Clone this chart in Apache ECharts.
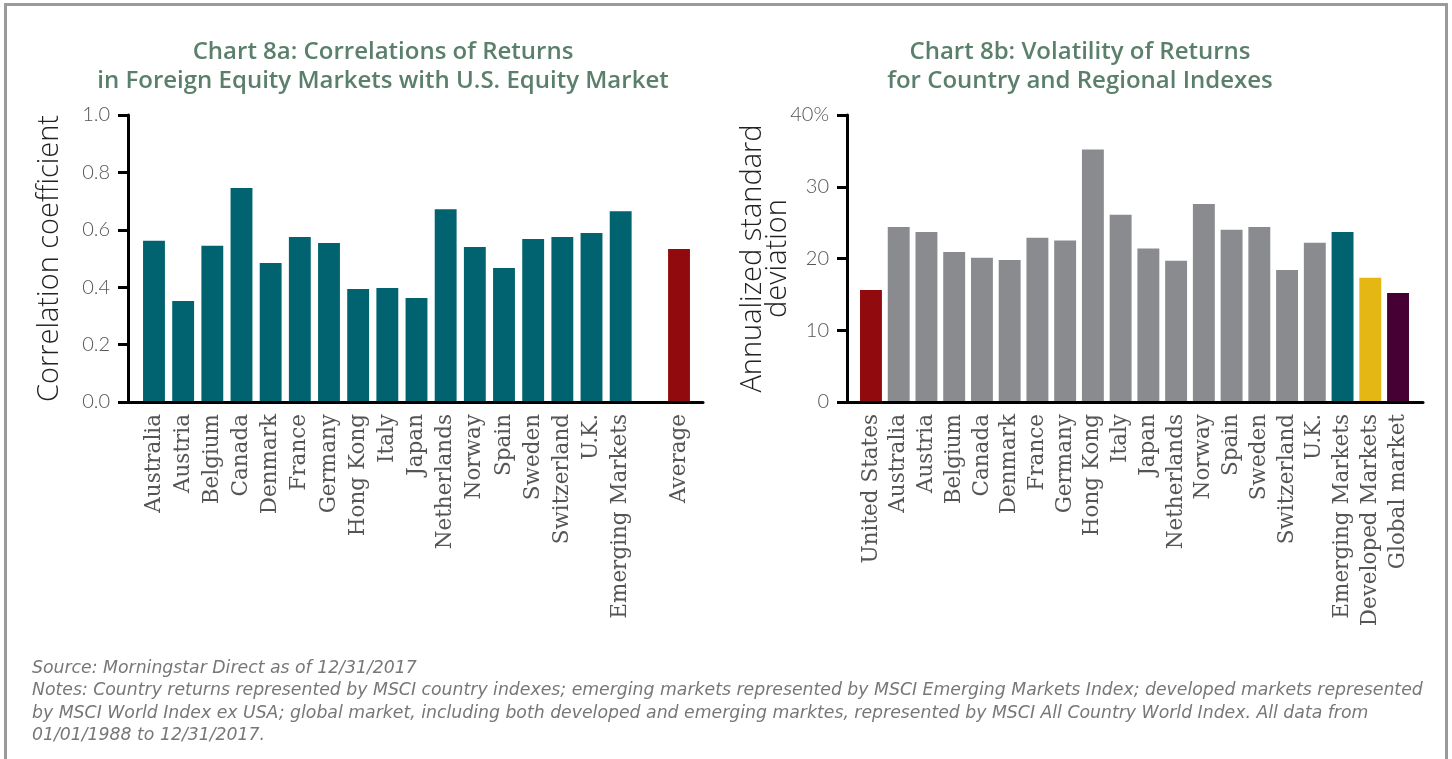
<!DOCTYPE html>
<html>
<head>
<meta charset="utf-8">
<script src="https://cdn.jsdelivr.net/npm/echarts@6/dist/echarts.min.js"></script>
<style>
  html, body { margin: 0; padding: 0; background: #fff; }
  #frame { position: absolute; left: 4px; top: 3px; width: 1438px; height: 820px; border: 3px solid #9a9a9a; }
  #main { position: absolute; left: 0; top: 0; width: 1452px; height: 759px; }
</style>
</head>
<body>
<div id="frame"></div>
<div id="main"></div>
<script>
// Chart 8a – correlations with the U.S. market
const corrCategories = ["Australia", "Austria", "Belgium", "Canada", "Denmark", "France", "Germany", "Hong Kong",
  "Italy", "Japan", "Netherlands", "Norway", "Spain", "Sweden", "Switzerland", "U.K.", "Emerging Markets", "", "Average"];
const corrValues = [0.562, 0.352, 0.544, 0.746, 0.484, 0.575, 0.554, 0.394,
  0.397, 0.362, 0.672, 0.540, 0.467, 0.568, 0.575, 0.589, 0.665, null, 0.533];
const corrTicks = [0, 0.2, 0.4, 0.6, 0.8, 1.0];

// Chart 8b – annualized volatility (%)
const volCategories = ["United States", "Australia", "Austria", "Belgium", "Canada", "Denmark", "France", "Germany",
  "Hong Kong", "Italy", "Japan", "Netherlands", "Norway", "Spain", "Sweden", "Switzerland", "U.K.",
  "Emerging Markets", "Developed Markets", "Global market"];
const volValues = [15.6, 24.4, 23.7, 20.9, 20.1, 19.8, 22.9, 22.5,
  35.2, 26.1, 21.4, 19.7, 27.6, 24.0, 24.4, 18.4, 22.2,
  23.7, 17.3, 15.2];
const volTicks = [0, 10, 20, 30, 40];

const TEAL = "#00636f", RED = "#910a0e", GREY = "#898b8f", GOLD = "#e5b714", PLUM = "#470033";
const corrColor = name => name === "Average" ? RED : TEAL;
const volColor = name => ({ "United States": RED, "Emerging Markets": TEAL, "Developed Markets": GOLD, "Global market": PLUM }[name] || GREY);

const tickFont = { fontFamily: "Lato", fontWeight: 300, fontSize: 20, color: "#555" };
const catFont = { fontFamily: "DejaVu Serif", fontSize: 21.5, color: "#555" };
const nameFont = { fontFamily: "Open Sans", fontWeight: 300, fontSize: 29, color: "#222", lineHeight: 25 };
const titleFont = { fontFamily: "Open Sans", fontWeight: 600, fontSize: 24, color: "#5a806b", lineHeight: 29 };
const blackLine = { lineStyle: { color: "#000", width: 3 } };

// frame grids carry the visible axes, bar grids carry the bars (inset a bit from the y axis)
const gridTop = 115, gridBottom = 357;

const chart = echarts.init(document.getElementById("main"), null, { renderer: "canvas" });
chart.setOption({
  animation: false,
  title: [
    { text: "Chart 8a: Correlations of Returns\nin Foreign Equity Markets with U.S. Equity Market",
      left: 378, top: 33, textAlign: "center", textStyle: titleFont },
    { text: "Chart 8b: Volatility of Returns\nfor Country and Regional Indexes",
      left: 1075, top: 33, textAlign: "center", textStyle: titleFont },
    { text: "Source: Morningstar Direct as of 12/31/2017\n" +
        "Notes: Country returns represented by MSCI country indexes; emerging markets represented by MSCI Emerging Markets Index; developed markets represented\n" +
        "by MSCI World Index ex USA; global market, including both developed and emerging marktes, represented by MSCI All Country World Index. All data from\n" +
        "01/01/1988 to 12/31/2017.",
      left: 27, top: 652,
      textStyle: { fontFamily: "DejaVu Sans", fontStyle: "italic", fontWeight: 200, fontSize: 17.3, color: "#777", lineHeight: 22.5 } }
  ],
  grid: [
    { left: 128, right: 749, top: gridTop, bottom: gridBottom },
    { left: 139.4, right: 758.4, top: gridTop, bottom: gridBottom },
    { left: 847, right: 29, top: gridTop, bottom: gridBottom },
    { left: 857.1, right: 40.1, top: gridTop, bottom: gridBottom }
  ],
  xAxis: [
    { gridIndex: 0, type: "value", min: 0, max: 1, z: 10, axisLine: blackLine, axisTick: { show: false }, axisLabel: { show: false }, splitLine: { show: false } },
    { gridIndex: 1, type: "category", data: corrCategories, axisLine: { show: false }, axisTick: { show: false },
      axisLabel: Object.assign({ rotate: 90, margin: 12, interval: 0 }, catFont) },
    { gridIndex: 2, type: "value", min: 0, max: 1, z: 10, axisLine: blackLine, axisTick: { show: false }, axisLabel: { show: false }, splitLine: { show: false } },
    { gridIndex: 3, type: "category", data: volCategories, axisLine: { show: false }, axisTick: { show: false },
      axisLabel: Object.assign({ rotate: 90, margin: 12, interval: 0 }, catFont) }
  ],
  yAxis: [
    { gridIndex: 0, type: "value", min: corrTicks[0], max: corrTicks[corrTicks.length - 1], interval: 0.2, z: 10,
      axisLine: Object.assign({ show: true }, blackLine),
      axisTick: { show: true, length: 10, lineStyle: { color: "#000", width: 3 } },
      axisLabel: Object.assign({ margin: 18, formatter: v => v.toFixed(1) }, tickFont),
      splitLine: { show: false },
      name: "Correlation coefficient", nameLocation: "middle", nameGap: 66, nameTextStyle: nameFont },
    { gridIndex: 1, type: "value", min: 0, max: 1, show: false },
    { gridIndex: 2, type: "value", min: volTicks[0], max: volTicks[volTicks.length - 1], interval: 10, z: 10,
      axisLine: Object.assign({ show: true }, blackLine),
      axisTick: { show: true, length: 10, lineStyle: { color: "#000", width: 3 } },
      axisLabel: Object.assign({ margin: 18, formatter: v => v === 40 ? v + "%" : String(v) }, tickFont),
      splitLine: { show: false },
      name: "Annualized standard\ndeviation", nameLocation: "middle", nameGap: 57, nameMoveOverlap: false, nameTextStyle: nameFont },
    { gridIndex: 3, type: "value", min: 0, max: 40, show: false }
  ],
  series: [
    { type: "bar", xAxisIndex: 1, yAxisIndex: 1, barCategoryGap: "25%",
      data: corrValues.map((v, i) => v == null ? "-" : { value: v, itemStyle: { color: corrColor(corrCategories[i]) } }) },
    { type: "bar", xAxisIndex: 3, yAxisIndex: 3, barCategoryGap: "21%",
      data: volValues.map((v, i) => ({ value: v, itemStyle: { color: volColor(volCategories[i]) } })) }
  ]
});
</script>
</body>
</html>
